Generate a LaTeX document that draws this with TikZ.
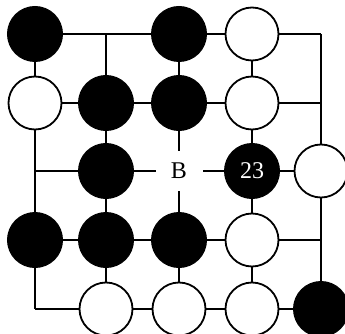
\documentclass[tikz,border=0pt]{standalone}
\usepackage{fontspec}
\setmainfont{Liberation Serif}
\usetikzlibrary{positioning}

\tikzset{
  blackstone/.style={circle,fill=black,draw=black,line width=1pt,minimum size=55pt,inner sep=0pt,text=white},
  whitestone/.style={circle,fill=white,draw=black,line width=1.8pt,minimum size=53pt,inner sep=0pt},
  pointlabel/.style={fill=white,minimum width=47pt,minimum height=40pt,inner sep=0pt},
  gridline/.style={line width=1.8pt,black}
}

\begin{document}
\begin{tikzpicture}[x=1pt,y=-1pt,font=\fontsize{24}{24}\selectfont]
\useasboundingbox (0,0) rectangle (345,334);
% board points p<col><row>
\foreach \c/\x in {0/35,1/106,2/179,3/252,4/321}
  \foreach \r/\y in {0/34,1/103,2/171,3/240,4/309}
    \coordinate (p\c\r) at (\x,\y);
% lines
\foreach \i in {0,...,4} {
  \draw[gridline] (p\i0) -- (p\i4);
  \draw[gridline] (p0\i) -- (p4\i);
}
% row 0
\node[blackstone] (s00) at (p00) {};
\node[blackstone] (s20) at (p20) {};
\node[whitestone] (s30) at (p30) {};
% row 1
\node[whitestone] (s01) at (p01) {};
\node[blackstone] (s11) at (p11) {};
\node[blackstone] (s21) at (p21) {};
\node[whitestone] (s31) at (p31) {};
% row 2
\node[blackstone] (s12) at (p12) {};
\node[pointlabel] (B) at (p22) {B};
\node[blackstone] (s32) at (p32) {23};
\node[whitestone] (s42) at (p42) {};
% row 3
\node[blackstone] (s03) at (p03) {};
\node[blackstone] (s13) at (p13) {};
\node[blackstone] (s23) at (p23) {};
\node[whitestone] (s33) at (p33) {};
% row 4
\node[whitestone] (s14) at (p14) {};
\node[whitestone] (s24) at (p24) {};
\node[whitestone] (s34) at (p34) {};
\node[blackstone] (s44) at (p44) {};
\end{tikzpicture}
\end{document}
